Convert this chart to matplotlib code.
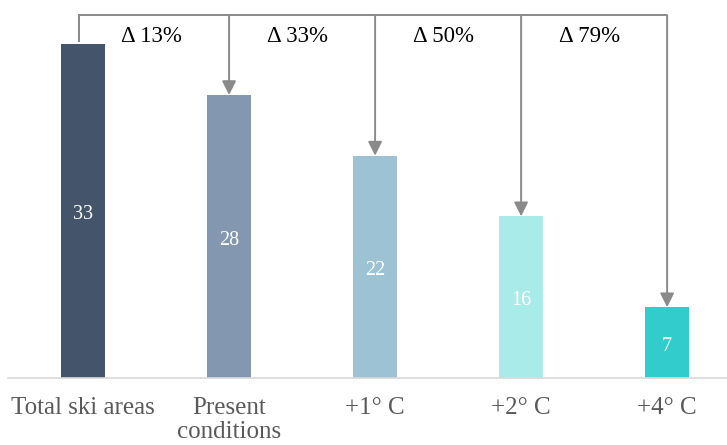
import matplotlib.pyplot as plt
import numpy as np

# Data
categories = ['Total ski areas', 'Present\nconditions', '+1° C', '+2° C', '+4° C']
values = [33, 28, 22, 16, 7]
deltas = ['Δ 13%', 'Δ 33%', 'Δ 50%', 'Δ 79%']
colors = ['#44546a', '#8497b0', '#9cc2d4', '#a9ebe8', '#33cccc']

plt.rcParams['font.family'] = ['Liberation Serif', 'DejaVu Serif']

fig = plt.figure(figsize=(7.27, 4.45), dpi=100)
ax = fig.add_axes([8/727, 67/445, 719/727, 378/445])

x = np.arange(len(values))
ax.bar(x, values, width=0.30, color=colors, zorder=2)

# value labels inside the bars
for xi, v in zip(x, values):
    ax.text(xi, v/2 - 0.35, str(v), ha='center', va='center', color='white', fontsize=14.5)

# bracket with arrows from the total to each scenario
top = 35.9
lc = '#8a8a8a'
ax.plot([x[0]-0.03, x[0]-0.03], [values[0]+0.3, top], color=lc, lw=1.4, zorder=3)
ax.plot([x[0]-0.03, x[-1]], [top, top], color=lc, lw=1.4, zorder=3, solid_capstyle='butt')
for xi, v in zip(x[1:], values[1:]):
    ax.annotate('', xy=(xi, v), xytext=(xi, top),
                arrowprops=dict(arrowstyle='-|>', color=lc, lw=1.4,
                                mutation_scale=21, shrinkA=0, shrinkB=0))

# delta labels between the arrows
for i, d in enumerate(deltas):
    ax.text(x[i] + 0.47, 33.8, d, ha='center', va='center', fontsize=16.5, color='black')

ax.set_xlim(-0.514, 4.41)
ax.set_ylim(0, 37.4)
ax.set_xticks(x)
ax.set_xticklabels(categories, fontsize=18, color='#595959', linespacing=1.12, va='top')
ax.tick_params(axis='x', length=0, pad=14)
ax.set_yticks([])
for s in ['top', 'right', 'left']:
    ax.spines[s].set_visible(False)
ax.spines['bottom'].set_color('#d9d9d9')
ax.spines['bottom'].set_linewidth(1.2)

plt.savefig('out.png', dpi=100)
